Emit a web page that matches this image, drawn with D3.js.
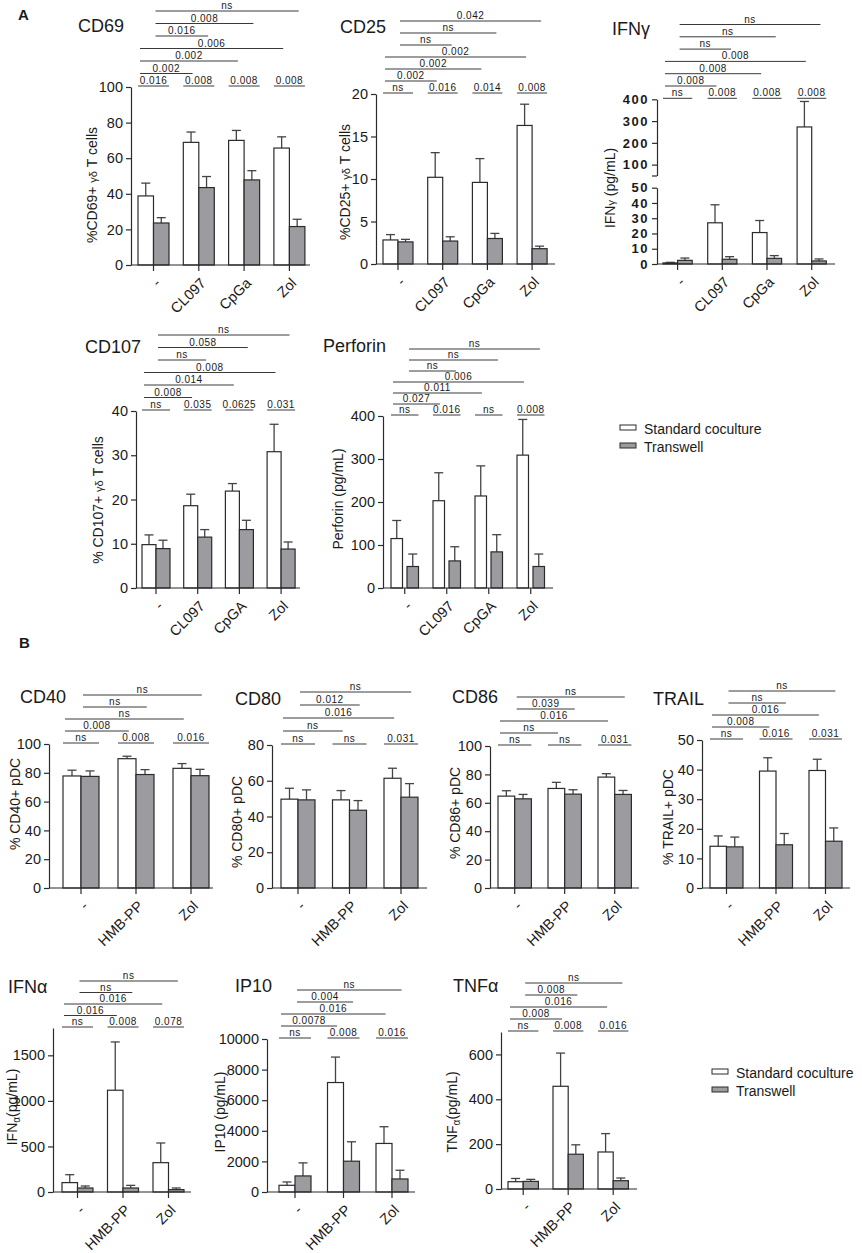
<!DOCTYPE html>
<html><head><meta charset="utf-8">
<script src="https://cdn.jsdelivr.net/npm/d3@7"></script>
<style>
body{margin:0;background:#fff;}
svg text{font-family:"Liberation Sans",Arial,Helvetica,sans-serif;fill:#1a1a1a;}
</style></head><body>
<svg id="chart" width="862" height="1253"></svg>
<script>
// ---------------- DATA ----------------
const catsA1 = ["-", "CL097", "CpGa", "Zol"];
const catsA2 = ["-", "CL097", "CpGA", "Zol"];
const catsB = ["-", "HMB-PP", "Zol"];
const seriesNames = ["Standard coculture", "Transwell"];

// Panel A
const cd69Std = [38.8, 68.9, 70.0, 65.7], cd69StdErr = [7.2, 5.8, 5.6, 6.3];
const cd69Tw = [23.6, 43.5, 47.8, 21.6], cd69TwErr = [3.0, 6.2, 5.2, 4.1];
const cd69Pair = ["0.016", "0.008", "0.008", "0.008"];
const cd69BrStd = ["0.002", "0.002", "0.006"], cd69BrTw = ["0.016", "0.008", "ns"];
const cd69Ticks = [0, 20, 40, 60, 80, 100];

const cd25Std = [2.83, 10.2, 9.6, 16.3], cd25StdErr = [0.63, 2.9, 2.8, 2.5];
const cd25Tw = [2.6, 2.7, 3.0, 1.8], cd25TwErr = [0.3, 0.5, 0.6, 0.3];
const cd25Pair = ["ns", "0.016", "0.014", "0.008"];
const cd25BrStd = ["0.002", "0.002", "0.002"], cd25BrTw = ["ns", "ns", "0.042"];
const cd25Ticks = [0, 5, 10, 15, 20];

const ifngStd = [0.7, 27.0, 20.6, 273], ifngStdErr = [0.4, 11.8, 7.9, 117];
const ifngTw = [2.4, 3.1, 3.7, 2.0], ifngTwErr = [1.5, 1.7, 1.8, 1.3];
const ifngPair = ["ns", "0.008", "0.008", "0.008"];
const ifngBrStd = ["0.008", "0.008", "0.008"], ifngBrTw = ["ns", "ns", "ns"];
const ifngTicksLow = [0, 10, 20, 30, 40, 50], ifngTicksHigh = [100, 200, 300, 400];

const cd107Std = [9.8, 18.6, 21.9, 30.8], cd107StdErr = [2.2, 2.6, 1.7, 6.2];
const cd107Tw = [8.9, 11.5, 13.2, 8.8], cd107TwErr = [1.9, 1.7, 2.1, 1.6];
const cd107Pair = ["ns", "0.035", "0.0625", "0.031"];
const cd107BrStd = ["0.008", "0.014", "0.008"], cd107BrTw = ["ns", "0.058", "ns"];
const cd107Ticks = [0, 10, 20, 30, 40];

const perfStd = [115, 203, 214, 309], perfStdErr = [42, 65, 70, 83];
const perfTw = [50, 63, 84, 50], perfTwErr = [29, 33, 40, 29];
const perfPair = ["ns", "0.016", "ns", "0.008"];
const perfBrStd = ["0.027", "0.011", "0.006"], perfBrTw = ["ns", "ns", "ns"];
const perfTicks = [0, 100, 200, 300, 400];

// Panel B
const cd40Std = [77.8, 89.8, 83.1], cd40StdErr = [4.0, 1.7, 3.3];
const cd40Tw = [77.5, 78.8, 78.0], cd40TwErr = [3.8, 3.4, 4.4];
const cd40Pair = ["ns", "0.008", "0.016"];
const cd40BrStd = ["0.008", "ns"], cd40BrTw = ["ns", "ns"];
const cd40Ticks = [0, 20, 40, 60, 80, 100];

const cd80Std = [49.7, 49.3, 61.4], cd80StdErr = [6.1, 5.2, 5.6];
const cd80Tw = [49.3, 43.5, 50.8], cd80TwErr = [5.6, 5.4, 7.6];
const cd80Pair = ["ns", "ns", "0.031"];
const cd80BrStd = ["ns", "0.016"], cd80BrTw = ["0.012", "ns"];
const cd80Ticks = [0, 20, 40, 60, 80];

const cd86Std = [64.7, 70.1, 78.1], cd86StdErr = [3.8, 4.3, 2.4];
const cd86Tw = [62.8, 66.1, 65.9], cd86TwErr = [3.1, 3.1, 2.8];
const cd86Pair = ["ns", "ns", "0.031"];
const cd86BrStd = ["ns", "0.016"], cd86BrTw = ["0.039", "ns"];
const cd86Ticks = [0, 20, 40, 60, 80, 100];

const trailStd = [14.1, 39.5, 39.7], trailStdErr = [3.5, 4.5, 3.8];
const trailTw = [13.9, 14.6, 15.8], trailTwErr = [3.3, 3.8, 4.5];
const trailPair = ["ns", "0.016", "0.031"];
const trailBrStd = ["0.008", "0.016"], trailBrTw = ["ns", "ns"];
const trailTicks = [0, 10, 20, 30, 40, 50];

const ifnaStd = [103, 1117, 322], ifnaStdErr = [87, 530, 216];
const ifnaTw = [44, 44, 26], ifnaTwErr = [22, 29, 18];
const ifnaPair = ["ns", "0.008", "0.078"];
const ifnaBrStd = ["0.016", "0.016"], ifnaBrTw = ["ns", "ns"];
const ifnaTicks = [0, 500, 1000, 1500];

const ip10Std = [438, 7155, 3173], ip10StdErr = [218, 1663, 1094];
const ip10Tw = [1050, 2013, 853], ip10TwErr = [854, 1269, 569];
const ip10Pair = ["ns", "0.008", "0.016"];
const ip10BrStd = ["0.0078", "0.016"], ip10BrTw = ["0.004", "ns"];
const ip10Ticks = [0, 2000, 4000, 6000, 8000, 10000];

const tnfaStd = [32.5, 458, 165], tnfaStdErr = [14.5, 148, 82];
const tnfaTw = [34, 155, 37], tnfaTwErr = [9, 42, 12];
const tnfaPair = ["ns", "0.008", "0.016"];
const tnfaBrStd = ["0.008", "0.016"], tnfaBrTw = ["0.008", "ns"];
const tnfaTicks = [0, 200, 400, 600];

// ---------------- LAYOUT ----------------
const panels = [
  {title:"CD69", tx:78, ty:32, yt:[["%CD69+ "],["γδ",11],[" T cells"]], ytx:97, yty:185,
   axisX:131, axisEnd:310, yTop:87, yBot:265, start:138, step:45.3, bw:15.5, gap:0, domain:[0,100], ticks:cd69Ticks,
   cats:catsA1, std:cd69Std, stdErr:cd69StdErr, tw:cd69Tw, twErr:cd69TwErr, pair:cd69Pair, brStd:cd69BrStd, brTw:cd69BrTw, lg:12.5},
  {title:"CD25", tx:340, ty:33, yt:[["%CD25+ "],["γδ",11],[" T cells"]], ytx:350, yty:182,
   axisX:376, axisEnd:555, yTop:94, yBot:264, start:383, step:44.7, bw:15, gap:0, domain:[0,20], ticks:cd25Ticks,
   cats:catsA1, std:cd25Std, stdErr:cd25StdErr, tw:cd25Tw, twErr:cd25TwErr, pair:cd25Pair, brStd:cd25BrStd, brTw:cd25BrTw, lg:12},
  {title:"IFNγ", tx:612, ty:35, yt:[["IFN"],["γ",11],[" (pg/mL)"]], ytx:615, yty:188,
   axisX:657, axisEnd:835, yTop:99.3, yBot:264, start:663, step:44.7, bw:14.6, gap:0,
   broken:{brk:50, lowTop:187.7, highBot:175.5, max:400, lowTicks:ifngTicksLow, highTicks:ifngTicksHigh},
   tickFont:13, tickBold:true,
   cats:catsA1, std:ifngStd, stdErr:ifngStdErr, tw:ifngTw, twErr:ifngTwErr, pair:ifngPair, brStd:ifngBrStd, brTw:ifngBrTw, lg:12.3},
  {title:"CD107", tx:85, ty:353, yt:[["% CD107+ "],["γδ",11],[" T cells"]], ytx:103, yty:500,
   axisX:136, axisEnd:300, yTop:411, yBot:588, start:142, step:41.7, bw:14, gap:0, domain:[0,40], ticks:cd107Ticks,
   cats:catsA2, std:cd107Std, stdErr:cd107StdErr, tw:cd107Tw, twErr:cd107TwErr, pair:cd107Pair, brStd:cd107BrStd, brTw:cd107BrTw, lg:12.5},
  {title:"Perforin", tx:323, ty:352, yt:[["Perforin (pg/mL)"]], ytx:343, yty:499,
   axisX:383, axisEnd:553, yTop:416, yBot:588, start:391, step:42, bw:11.5, gap:4.5, domain:[0,400], ticks:perfTicks,
   cats:catsA2, std:perfStd, stdErr:perfStdErr, tw:perfTw, twErr:perfTwErr, pair:perfPair, brStd:perfBrStd, brTw:perfBrTw, lg:11},
  {title:"CD40", tx:20, ty:703, yt:[["% CD40+ pDC"]], ytx:20, yty:804,
   axisX:49, axisEnd:213, yTop:744, yBot:888, start:63, step:55, bw:18, gap:0, domain:[0,100], ticks:cd40Ticks,
   cats:catsB, std:cd40Std, stdErr:cd40StdErr, tw:cd40Tw, twErr:cd40TwErr, pair:cd40Pair, brStd:cd40BrStd, brTw:cd40BrTw, lg:12},
  {title:"CD80", tx:235, ty:705, yt:[["% CD80+ pDC"]], ytx:242, yty:822,
   axisX:272, axisEnd:427, yTop:745, yBot:888, start:281, step:51.5, bw:17, gap:0, domain:[0,80], ticks:cd80Ticks,
   cats:catsB, std:cd80Std, stdErr:cd80StdErr, tw:cd80Tw, twErr:cd80TwErr, pair:cd80Pair, brStd:cd80BrStd, brTw:cd80BrTw, lg:13},
  {title:"CD86", tx:452, ty:703, yt:[["% CD86+ pDC"]], ytx:460, yty:813,
   axisX:490, axisEnd:639, yTop:746, yBot:888, start:498, step:50, bw:16.7, gap:0, domain:[0,100], ticks:cd86Ticks,
   cats:catsB, std:cd86Std, stdErr:cd86StdErr, tw:cd86Tw, twErr:cd86TwErr, pair:cd86Pair, brStd:cd86BrStd, brTw:cd86BrTw, lg:12},
  {title:"TRAIL", tx:653, ty:705, yt:[["% TRAIL+ pDC"]], ytx:673, yty:817,
   axisX:702, axisEnd:850, yTop:740, yBot:888, start:710, step:49.5, bw:16.5, gap:0, domain:[0,50], ticks:trailTicks,
   cats:catsB, std:trailStd, stdErr:trailStdErr, tw:trailTw, twErr:trailTwErr, pair:trailPair, brStd:trailBrStd, brTw:trailBrTw, lg:12},
  {title:"IFNα", tx:8, ty:993, yt:[["IFN"],["α",10,3],["(pg/mL)",null,-3]], ytx:17, yty:1107,
   axisX:53, axisEnd:191, yTop:1028, yBot:1192, start:62, step:45.5, bw:15.5, gap:0, domain:[0,1800], ticks:ifnaTicks,
   cats:catsB, std:ifnaStd, stdErr:ifnaStdErr, tw:ifnaTw, twErr:ifnaTwErr, pair:ifnaPair, brStd:ifnaBrStd, brTw:ifnaBrTw, lg:11.5},
  {title:"IP10", tx:235, ty:992, yt:[["IP10 (pg/mL)"]], ytx:225, yty:1112,
   axisX:267, axisEnd:415, yTop:1039, yBot:1192, start:279, step:48.5, bw:16, gap:0, domain:[0,10000], ticks:ip10Ticks,
   cats:catsB, std:ip10Std, stdErr:ip10StdErr, tw:ip10Tw, twErr:ip10TwErr, pair:ip10Pair, brStd:ip10BrStd, brTw:ip10BrTw, lg:12},
  {title:"TNFα", tx:453, ty:992, yt:[["TNF"],["α",10,3],["(pg/mL)",null,-3]], ytx:457, yty:1112,
   axisX:501, axisEnd:637, yTop:1032, yBot:1189, start:508, step:45, bw:15.2, gap:0, domain:[0,700], ticks:tnfaTicks,
   cats:catsB, std:tnfaStd, stdErr:tnfaStdErr, tw:tnfaTw, twErr:tnfaTwErr, pair:tnfaPair, brStd:tnfaBrStd, brTw:tnfaBrTw, lg:12}
];

const fills = ["#ffffff", "#9c9ca0"];
const ink = "#2b2b2b";
const svg = d3.select("#chart");

function styleAxis(g, font, bold){
  g.selectAll("path,line").attr("stroke", ink).attr("stroke-width", 1.2);
  g.selectAll("text").attr("font-size", font || 14.5).attr("fill", "#1a1a1a")
    .attr("font-weight", bold ? "bold" : null).attr("letter-spacing", bold ? 1.5 : null)
    .attr("font-family", '"Liberation Sans",Arial,sans-serif');
}

function drawPanel(p){
  const g = svg.append("g");
  const n = p.cats.length;
  const groupW = 2 * p.bw + p.gap;
  const x = d3.scaleBand().domain(p.cats)
    .range([p.start, p.start + (n - 1) * p.step + groupW])
    .paddingInner(1 - groupW / p.step).paddingOuter(0);
  const xs = d3.scaleBand().domain([0, 1]).range([0, groupW])
    .paddingInner(p.gap / (p.bw + p.gap)).paddingOuter(0);
  const bw = xs.bandwidth();

  let y;
  if (p.broken){
    const b = p.broken;
    const lo = d3.scaleLinear().domain([0, b.brk]).range([p.yBot, b.lowTop]);
    const hi = d3.scaleLinear().domain([b.brk, b.max]).range([b.highBot, p.yTop]);
    y = v => (v <= b.brk ? lo(v) : hi(v));
    const axLo = g.append("g").attr("transform", `translate(${p.axisX},0)`)
      .call(d3.axisLeft(lo).tickValues(b.lowTicks).tickSize(5).tickSizeOuter(0).tickPadding(3));
    const axHi = g.append("g").attr("transform", `translate(${p.axisX},0)`)
      .call(d3.axisLeft(hi).tickValues([b.brk].concat(b.highTicks)).tickSize(5).tickSizeOuter(0).tickPadding(3)
        .tickFormat(v => v === b.brk ? "" : v));
    styleAxis(axLo, p.tickFont, p.tickBold); styleAxis(axHi, p.tickFont, p.tickBold);
  } else {
    y = d3.scaleLinear().domain(p.domain).range([p.yBot, p.yTop]);
    const ax = g.append("g").attr("transform", `translate(${p.axisX},0)`)
      .call(d3.axisLeft(y).tickValues(p.ticks).tickSize(5).tickSizeOuter(0).tickPadding(3).tickFormat(d3.format("d")));
    styleAxis(ax, p.tickFont, p.tickBold);
  }

  // bars + error bars
  const series = [[p.std, p.stdErr], [p.tw, p.twErr]];
  series.forEach(([vals, errs], s) => {
    p.cats.forEach((c, i) => {
      const x0 = x(c) + xs(s);
      const cx = x0 + bw / 2;
      const top = y(vals[i]), etop = y(vals[i] + errs[i]);
      g.append("line").attr("x1", cx).attr("x2", cx).attr("y1", top).attr("y2", etop)
        .attr("stroke", "#444").attr("stroke-width", 1.3);
      g.append("line").attr("x1", cx - 4.5).attr("x2", cx + 4.5).attr("y1", etop).attr("y2", etop)
        .attr("stroke", "#444").attr("stroke-width", 1.3);
      g.append("rect").attr("x", x0).attr("y", top).attr("width", bw).attr("height", y(0) - top)
        .attr("fill", fills[s]).attr("stroke", ink).attr("stroke-width", 1.2);
    });
  });

  // x axis
  const xa = g.append("g").attr("transform", `translate(0,${p.yBot})`)
    .call(d3.axisBottom(x).tickSize(6).tickSizeOuter(0));
  xa.select(".domain").remove();
  xa.append("line").attr("x1", p.axisX).attr("x2", p.axisEnd).attr("y1", 0).attr("y2", 0);
  styleAxis(xa, 14.5);
  xa.selectAll("text").attr("x", 0).attr("y", 0).attr("dy", 0)
    .attr("text-anchor", "end").attr("transform", "translate(8,19) rotate(-45)");

  // significance annotations
  const sigG = g.append("g");
  function sig(x1, x2, yy, label){
    sigG.append("line").attr("x1", x1).attr("x2", x2).attr("y1", yy).attr("y2", yy)
      .attr("stroke", "#3a3a3a").attr("stroke-width", 1);
    sigG.append("text").attr("x", (x1 + x2) / 2).attr("y", yy - 2).attr("text-anchor", "middle")
      .attr("font-size", 10).attr("letter-spacing", 0.5).text(label);
  }
  const lev = k => p.yTop - 1 - k * p.lg;
  p.cats.forEach((c, i) => sig(x(c), x(c) + groupW, lev(0), p.pair[i]));
  p.brStd.forEach((lab, j) => {
    sig(x(p.cats[0]) + xs(0) + 2, x(p.cats[j + 1]) + xs(0) + bw * 0.6, lev(j + 1), lab);
  });
  p.brTw.forEach((lab, j) => {
    sig(x(p.cats[0]) + xs(1) + 2, x(p.cats[j + 1]) + xs(1) + bw * 0.6, lev(p.brStd.length + j + 1), lab);
  });

  // titles
  g.append("text").attr("x", p.tx).attr("y", p.ty).attr("font-size", 18).text(p.title);
  const yt = g.append("text").attr("transform", `translate(${p.ytx},${p.yty}) rotate(-90)`)
    .attr("text-anchor", "middle").attr("font-size", 14);
  p.yt.forEach(part => {
    const t = yt.append("tspan").text(part[0]);
    if (part[1]) t.attr("font-size", part[1]);
    if (part[2]) t.attr("dy", part[2]);
  });
}

panels.forEach(drawPanel);

// panel letters
svg.append("text").attr("x", 18).attr("y", 20).attr("font-size", 15).attr("font-weight", "bold").text("A");
svg.append("text").attr("x", 19).attr("y", 648).attr("font-size", 15).attr("font-weight", "bold").text("B");

// legends
function legend(lx, ly){
  seriesNames.forEach((name, i) => {
    svg.append("rect").attr("x", lx).attr("y", ly + i * 18 - 9).attr("width", 16).attr("height", 5)
      .attr("fill", fills[i]).attr("stroke", ink).attr("stroke-width", 1);
    svg.append("text").attr("x", lx + 24).attr("y", ly + i * 18).attr("font-size", 14).text(name);
  });
}
legend(620, 434);
legend(712, 1078);
</script>
</body></html>
